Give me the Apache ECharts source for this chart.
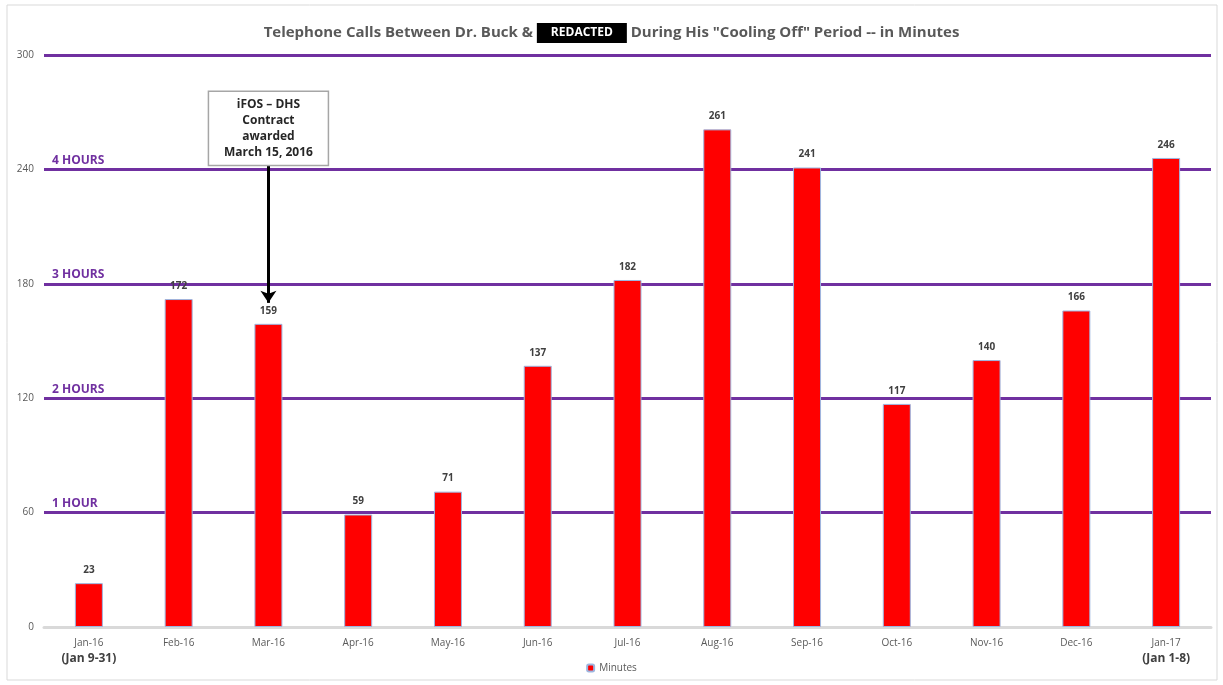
<!DOCTYPE html>
<html>
<head>
<meta charset="utf-8">
<script src="https://cdn.jsdelivr.net/npm/echarts@6/dist/echarts.min.js"></script>
<style>
  html, body { margin: 0; padding: 0; background: #fff; }
  #main { width: 1223px; height: 685px; }
</style>
</head>
<body>
<div id="main"></div>
<script>
// 数据
const months = ['Jan-16', 'Feb-16', 'Mar-16', 'Apr-16', 'May-16', 'Jun-16', 'Jul-16',
    'Aug-16', 'Sep-16', 'Oct-16', 'Nov-16', 'Dec-16', 'Jan-17']
const subLabels = ['(Jan 9-31)', '', '', '', '', '', '', '', '', '', '', '', '(Jan 1-8)']
const minutes = [23, 172, 159, 59, 71, 137, 182, 261, 241, 117, 140, 166, 246]
const hourLines = [60, 120, 180, 240]
const hourNames = ['1 HOUR', '2 HOURS', '3 HOURS', '4 HOURS']
const noteLines = ['iFOS \u2013 DHS', 'Contract', 'awarded', 'March 15, 2016']
const noteTop = 281
const noteBottom = 242
const arrowTip = 170

const font = '"Liberation Sans Narrow", "Open Sans", sans-serif'
const purple = '#7030A0'

const chart = echarts.init(document.getElementById('main'))

chart.setOption({
    animation: false,
    textStyle: { fontFamily: font },
    title: {
        text: 'Telephone Calls Between Dr. Buck & {red|REDACTED} During His "Cooling Off" Period -- in Minutes',
        left: 'center',
        top: 18,
        textStyle: {
            fontSize: 15,
            fontWeight: 'bold',
            color: '#595959',
            fontFamily: font,
            rich: {
                red: {
                    backgroundColor: '#000',
                    color: '#fff',
                    fontSize: 12,
                    fontWeight: 'bold',
                    fontFamily: font,
                    padding: [4, 14, 4, 14]
                }
            }
        }
    },
    legend: {
        bottom: 7,
        left: 'center',
        itemWidth: 7,
        itemHeight: 7,
        textStyle: { fontSize: 10, color: '#595959' },
        data: ['Minutes']
    },
    grid: { left: 44, right: 12, top: 55, bottom: 58 },
    xAxis: {
        type: 'category',
        data: months,
        axisTick: { show: false },
        axisLine: { lineStyle: { color: '#d9d9d9', width: 3 } },
        axisLabel: {
            margin: 9,
            interval: 0,
            formatter: function (v, i) {
                return subLabels[i] ? v + '\n{sub|' + subLabels[i] + '}' : v
            },
            fontSize: 10,
            color: '#595959',
            lineHeight: 14,
            rich: {
                sub: { fontSize: 12, fontWeight: 'bold', color: '#404040', lineHeight: 18 }
            }
        }
    },
    yAxis: {
        type: 'value',
        min: 0,
        max: 300,
        interval: 60,
        axisLine: { show: false },
        axisTick: { show: false },
        axisLabel: { fontSize: 10, color: '#595959', margin: 10 },
        splitLine: { lineStyle: { color: purple, width: 3 } }
    },
    series: [{
        name: 'Minutes',
        type: 'bar',
        data: minutes,
        barWidth: 28,
        itemStyle: { color: '#ff0000', borderColor: '#9db6e0', borderWidth: 1 },
        label: {
            show: true,
            position: 'top',
            distance: 8,
            fontSize: 10,
            fontWeight: 'bold',
            color: '#404040'
        },
        markLine: {
            silent: true,
            symbol: ['none', 'none'],
            data: hourLines.map((v, i) => ({
                yAxis: v,
                lineStyle: { width: 1, color: 'rgba(0,0,0,0)' },
                label: {
                    show: true,
                    position: 'insideStartTop',
                    formatter: hourNames[i],
                    color: purple,
                    fontSize: 12,
                    fontWeight: 'bold',
                    distance: [8, 3]
                }
            })).concat([[
                { coord: ['Mar-16', noteBottom], lineStyle: { color: '#000', width: 3, type: 'solid' }, label: { show: false } },
                { coord: ['Mar-16', arrowTip], symbol: 'arrow', symbolSize: [12, 12] }
            ]])
        }
    }]
})

// 注释框
const topLeft = chart.convertToPixel({ seriesIndex: 0 }, ['Mar-16', noteTop])
const bottom = chart.convertToPixel({ seriesIndex: 0 }, ['Mar-16', noteBottom])
chart.setOption({
    graphic: [
        {
            type: 'rect',
            shape: { x: 7, y: 5, width: 1210, height: 675 },
            style: { fill: 'none', stroke: '#d9d9d9', lineWidth: 1 },
            silent: true
        },
        {
            type: 'rect',
            shape: { x: topLeft[0] - 60, y: topLeft[1], width: 120, height: bottom[1] - topLeft[1] },
            style: { fill: '#fff', stroke: '#a6a6a6', lineWidth: 1.5 },
            z: 10
        },
        {
            type: 'text',
            x: topLeft[0],
            y: topLeft[1] + 5,
            z: 11,
            style: {
                text: noteLines.join('\n'),
                align: 'center',
                fontSize: 12,
                fontWeight: 'bold',
                lineHeight: 16,
                fill: '#262626',
                fontFamily: font
            }
        }
    ]
})
</script>
</body>
</html>
